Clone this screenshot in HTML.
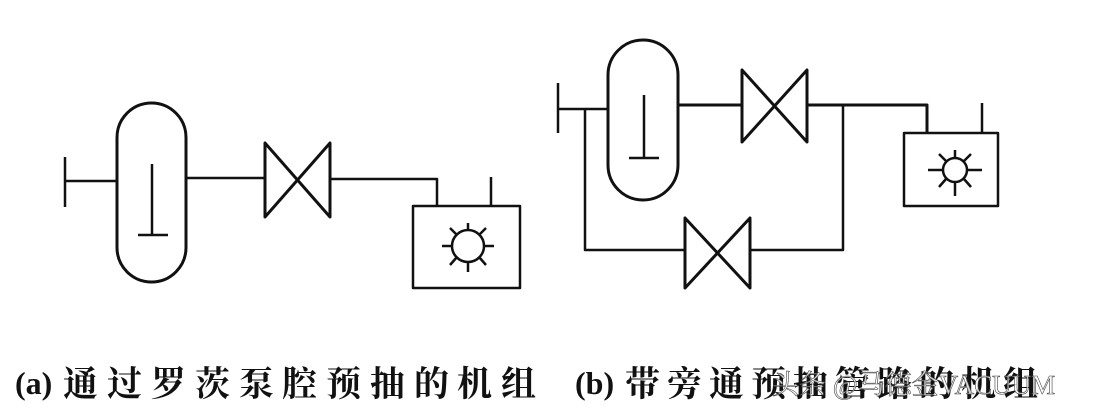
<!DOCTYPE html>
<html><head><meta charset="utf-8"><style>
html,body{margin:0;padding:0;background:#fff;}
svg{display:block;}
text{font-family:"Liberation Serif","Noto Serif CJK SC",serif;}
</style></head><body>
<svg width="1100" height="416" viewBox="0 0 1100 416" xmlns="http://www.w3.org/2000/svg">
<rect width="1100" height="416" fill="#fff"/>
<g fill="none" stroke="#111" stroke-width="2.5" stroke-linejoin="round">
<!-- (a) -->
<line x1="65" y1="157" x2="65" y2="207"/>
<line x1="65" y1="181" x2="117" y2="181"/>
<rect x="117" y="103" width="69" height="179" rx="34.5" ry="34.5" stroke-width="3"/>
<line x1="152" y1="164" x2="152" y2="235"/>
<line x1="138" y1="235" x2="168" y2="235"/>
<line x1="186" y1="178" x2="265" y2="178"/>
<polygon points="265,143 265,217 330,143 330,217" stroke-width="3"/>
<polyline points="330,179 437,179 437,206"/>
<rect x="413" y="206" width="107" height="82"/>
<line x1="491" y1="177" x2="491" y2="206"/>
<circle cx="468" cy="246" r="16"/>
<g stroke-width="2.5">
<line x1="468" y1="223" x2="468" y2="230"/><line x1="468" y1="262" x2="468" y2="272"/>
<line x1="442" y1="246" x2="452" y2="246"/><line x1="484" y1="246" x2="494" y2="246"/>
<line x1="457" y1="235" x2="450" y2="228"/><line x1="479" y1="235" x2="486" y2="228"/>
<line x1="457" y1="257" x2="450" y2="265"/><line x1="479" y1="257" x2="486" y2="265"/>
</g>
<!-- (b) -->
<line x1="558" y1="83" x2="558" y2="133"/>
<line x1="558" y1="109" x2="608" y2="109"/>
<rect x="608" y="40" width="70" height="160" rx="35" ry="35" stroke-width="3"/>
<line x1="644" y1="95" x2="644" y2="158"/>
<line x1="629" y1="158" x2="659" y2="158"/>
<line x1="678" y1="105" x2="742" y2="105" stroke-width="3"/>
<polygon points="742,70 742,142 807,70 807,142" stroke-width="3"/>
<polyline points="807,105 927,105 927,133" stroke-width="3"/>
<rect x="904" y="133" width="94" height="73"/>
<line x1="982" y1="103" x2="982" y2="133"/>
<circle cx="955" cy="170" r="12"/>
<g stroke-width="2.5">
<line x1="955" y1="150" x2="955" y2="158"/><line x1="955" y1="182" x2="955" y2="196"/>
<line x1="928" y1="170" x2="943" y2="170"/><line x1="967" y1="170" x2="982" y2="170"/>
<line x1="946" y1="161" x2="939" y2="154"/><line x1="964" y1="161" x2="971" y2="154"/>
<line x1="946" y1="179" x2="939" y2="187"/><line x1="964" y1="179" x2="971" y2="187"/>
</g>
<polyline points="585,109 585,250 685,250"/>
<polygon points="685,218 685,288 750,218 750,288" stroke-width="3"/>
<polyline points="750,250 843,250 843,105"/>
</g>
<g fill="#111" font-size="35" font-weight="bold">
<text x="15" y="394" font-size="32">(a)</text>
<text y="396" x="63 107 151 195 239 282 326 370 414 457 501">通过罗茨泵腔预抽的机组</text>
<text x="575" y="394" font-size="32">(b)</text>
<text y="396" x="625 667 709 751 793 835 877 919 961 1003">带旁通预抽管路的机组</text>
</g>
<text x="772" y="394" font-size="27" fill="#fff" fill-opacity="0.8" stroke="#444" stroke-width="0.6" font-family="Liberation Sans,Noto Sans CJK SC,sans-serif">头条 @马德金VACUUM</text>
</svg>
</body></html>
